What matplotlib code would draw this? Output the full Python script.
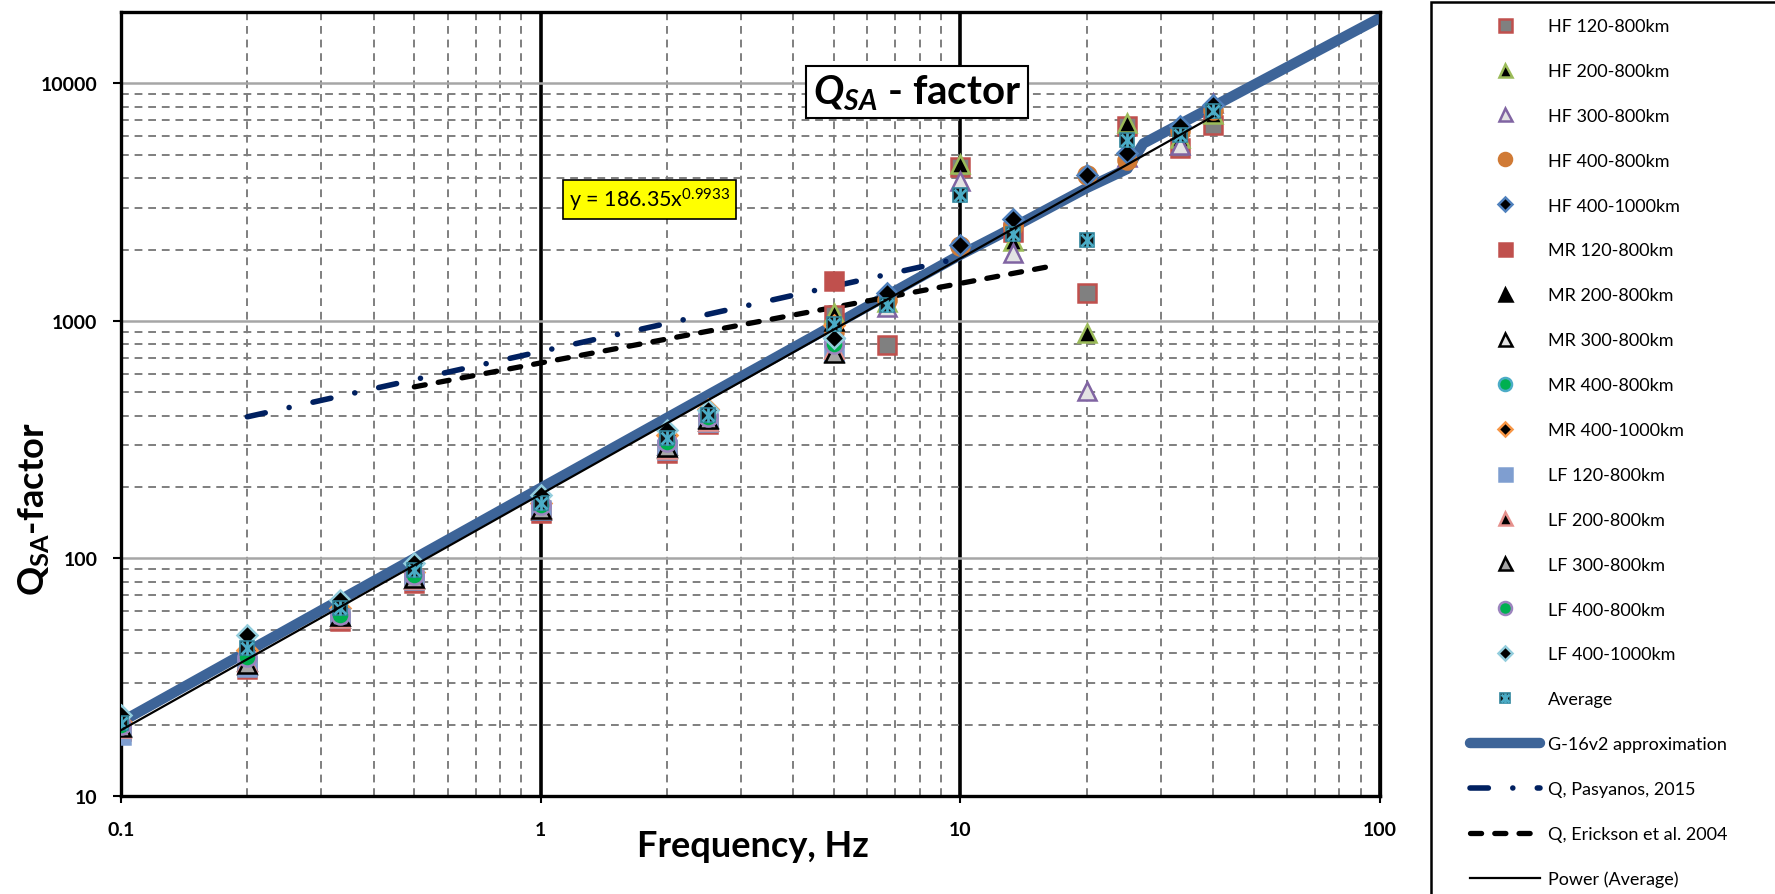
import numpy as np
import matplotlib
matplotlib.use("Agg")
import matplotlib.pyplot as plt
from matplotlib.ticker import FuncFormatter, LogLocator, NullFormatter
from matplotlib.legend_handler import HandlerTuple
from matplotlib.patches import Rectangle

plt.rcParams['font.family'] = ['Lato', 'DejaVu Sans']
plt.rcParams['mathtext.fontset'] = 'custom'
plt.rcParams['mathtext.rm'] = 'Lato'
plt.rcParams['mathtext.it'] = 'Lato:italic'
plt.rcParams['mathtext.bf'] = 'Lato:bold'
plt.rcParams['mathtext.bfit'] = 'Lato:italic:bold'

# frequencies, Hz
f_hf = [5, 6.67, 10, 13.33, 20, 25, 33.3, 40]
f_mr = [0.1, 0.2, 0.333, 0.5, 1, 2, 2.5, 5]
f_lf = [0.1, 0.2, 0.333, 0.5, 1, 2, 2.5, 5]
f_avg = [0.1, 0.2, 0.333, 0.5, 1, 2, 2.5, 5, 6.67, 10, 13.33, 20, 25, 33.3, 40]

hf_120 = [1060, 793, 4450, 2370, 1313, 6630, 5350, 6680]
hf_200 = [1080, 1200, 4600, 2170, 890, 6820, 5900, 7450]
hf_300 = [900, 1150, 3880, 1930, 507, 4900, 5500, 8280]
hf_400 = [900, 1230, 2070, 2500, 4100, 4750, 6300, 7700]
hf_400_1000 = [850, 1310, 2090, 2690, 4120, 5100, 6620, 8130]

mr_120 = [18.8, 34.3, 54.6, 79, 155, 278, 368, 1470]
mr_200 = [19.8, 37, 56, 83, 163, 292, 380, 1000]
mr_300 = [19.5, 35.6, 57, 82, 160, 300, 390, 740]
mr_400 = [20, 38, 57.8, 84.4, 168, 310, 395, 790]
mr_400_1000 = [20.5, 41, 62, 88, 172, 330, 427, 960]

lf_120 = [18.1, 35, 56, 81, 160, 285, 375, 750]
lf_200 = [19.3, 36.5, 56, 82, 162, 290, 380, 760]
lf_300 = [19.5, 36, 57, 83, 162, 295, 385, 735]
lf_400 = [20, 38.5, 58, 85, 168, 310, 395, 800]
lf_400_1000 = [21.9, 47.7, 66.8, 95.7, 185, 348, 420, 850]

avg = [20.3, 42, 61.6, 89.5, 171, 321, 402, 971, 1167, 3394, 2324, 2193, 5780, 6070, 7660]

# model curves
g16_f = [0.1, 1, 10, 12.4, 20, 25, 27.3, 100]
g16_q = [20.5, 198, 1900, 2310, 3630, 4370, 5590, 18900]
pas_f = [0.2, 10]
pas_q = [395, 1840]
eri_f = [0.5, 17]
eri_q = [528, 1720]
trend_a, trend_b = 186.35, 0.9933
trend_f = np.array([0.1, 40])

W, H = 1775, 895
fig = plt.figure(figsize=(W / 100, H / 100), dpi=100)
ax = fig.add_axes([121 / W, 1 - 797 / H, (1380 - 121) / W, (797 - 13) / H])
ax.set_xscale('log')
ax.set_yscale('log')
ax.set_xlim(0.1, 100)
ax.set_ylim(10, 20000)

ax.set_axisbelow(True)
ax.yaxis.set_minor_locator(LogLocator(base=10, subs=np.arange(2, 10)))
ax.xaxis.set_minor_locator(LogLocator(base=10, subs=np.arange(2, 10)))
ax.xaxis.set_minor_formatter(NullFormatter())
ax.yaxis.set_minor_formatter(NullFormatter())
ax.grid(which='minor', ls=(0, (4, 3)), color='#7F7F7F', lw=1.4)
ax.yaxis.grid(which='major', color='#A6A6A6', lw=1.8)
ax.xaxis.grid(which='major', color='black', lw=2.6)
for s in ax.spines.values():
    s.set_linewidth(2.4)
    s.set_color('black')

fmt = FuncFormatter(lambda v, p: f'{v:g}')
ax.xaxis.set_major_formatter(fmt)
ax.yaxis.set_major_formatter(fmt)
ax.tick_params(which='minor', length=0)
ax.tick_params(axis='y', which='major', length=6, width=1.5, pad=11, labelsize=14)
ax.tick_params(axis='x', which='major', length=5, width=1.5, pad=13, labelsize=14)
for lab in ax.get_xticklabels() + ax.get_yticklabels():
    lab.set_fontweight('bold')

# lines underneath the markers
g16, = ax.plot(g16_f, g16_q, color='#3D6498', lw=7.5, solid_capstyle='round',
               solid_joinstyle='round', zorder=2, label='G-16v2 approximation')
pas, = ax.plot(pas_f, pas_q, color='#002060', lw=4, dashes=(3.3, 4.4, 0.01, 4.4),
               dash_capstyle='round', zorder=2.5, label='Q, Pasyanos, 2015')
eri, = ax.plot(eri_f, eri_q, color='black', lw=3.8, dashes=(2.1, 2.5),
               dash_capstyle='round', zorder=2.5, label='Q, Erickson et al. 2004')

series = [
    (f_hf, hf_120, 's', '#808080', '#C0504D', 13, 'HF 120-800km'),
    (f_hf, hf_200, '^', 'black', '#9BBB59', 13, 'HF 200-800km'),
    (f_hf, hf_300, '^', '#E3E3E3', '#8064A2', 13, 'HF 300-800km'),
    (f_hf, hf_400, 'o', '#D07A35', '#D07A35', 13, 'HF 400-800km'),
    (f_hf, hf_400_1000, 'D', 'black', '#4F81BD', 10, 'HF 400-1000km'),
    (f_mr, mr_120, 's', '#C0504D', '#C0504D', 13, 'MR 120-800km'),
    (f_mr, mr_200, '^', 'black', 'black', 13, 'MR 200-800km'),
    (f_mr, mr_300, '^', '#E3E3E3', 'black', 13, 'MR 300-800km'),
    (f_mr, mr_400, 'o', '#00B050', '#4BACC6', 13, 'MR 400-800km'),
    (f_mr, mr_400_1000, 'D', 'black', '#F79646', 10, 'MR 400-1000km'),
    (f_lf, lf_120, 's', '#7F9ED0', '#7F9ED0', 13, 'LF 120-800km'),
    (f_lf, lf_200, '^', 'black', '#E6908C', 13, 'LF 200-800km'),
    (f_lf, lf_300, '^', '#A6A6A6', 'black', 13, 'LF 300-800km'),
    (f_lf, lf_400, 'o', '#00B050', '#9C84BE', 13, 'LF 400-800km'),
    (f_lf, lf_400_1000, 'D', 'black', '#93CDDD', 10, 'LF 400-1000km'),
]

handles, labels = [], []
for i, (fx, q, m, fc, ec, ms, lab) in enumerate(series):
    h, = ax.plot(fx, q, ls='none', marker=m, ms=ms, mfc=fc, mec=ec, mew=1.8,
                 zorder=3 + i * 0.01)
    handles.append(h)
    labels.append(lab)

a1, = ax.plot(f_avg, avg, ls='none', marker='s', ms=10.5, mfc='#111111', mec='#31859C',
              mew=1.2, zorder=3.5)
a2, = ax.plot(f_avg, avg, ls='none', marker='x', ms=8, mec='#4BACC6', mew=2, zorder=3.6)
a3, = ax.plot(f_avg, avg, ls='none', marker='|', ms=10, mec='#4BACC6', mew=2, zorder=3.6)
handles.append((a1, a2, a3))
labels.append('Average')

pw, = ax.plot(trend_f, trend_a * trend_f ** trend_b, color='black', lw=1.6, zorder=5)

handles += [g16, pas, eri, pw]
labels += ['G-16v2 approximation', 'Q, Pasyanos, 2015', 'Q, Erickson et al. 2004',
           'Power (Average)']

fig.legend(handles, labels, loc='upper left', bbox_to_anchor=(1470 / W, 1 - 19 / H),
           frameon=False, fontsize=13, labelspacing=1.6, handlelength=3.9,
           handletextpad=0.44, borderpad=0, borderaxespad=0, markerscale=0.72,
           handler_map={tuple: HandlerTuple(ndivide=1)})
fig.add_artist(Rectangle((1431 / W, -0.05), 0.3, (H - 3) / H + 0.05,
                         transform=fig.transFigure, fill=False, ec='black', lw=1.8,
                         clip_on=False))

fig.text(917 / W, 1 - 93 / H, r'$\mathbfit{Q}_{\mathbfit{SA}}$ - factor', ha='center',
         va='center', fontsize=29, fontweight='bold',
         bbox=dict(boxstyle='square,pad=0.16', fc='white', ec='black', lw=1.5))
fig.text(649.5 / W, 1 - 200.5 / H, r'y = 186.35x$^{0.9933}$', ha='center', va='center',
         fontsize=15.5, bbox=dict(boxstyle='square,pad=0.28', fc='yellow', ec='black', lw=1.2))

fig.text(753 / W, 1 - 847 / H, 'Frequency, Hz', ha='center', va='center', fontsize=26,
         fontweight='bold')
fig.text(34 / W, 1 - 509 / H, r'$\mathbf{Q}_{\mathbf{SA}}$-factor', ha='center',
         va='center', rotation=90, fontsize=26, fontweight='bold')

fig.savefig('out.png', dpi=100)
